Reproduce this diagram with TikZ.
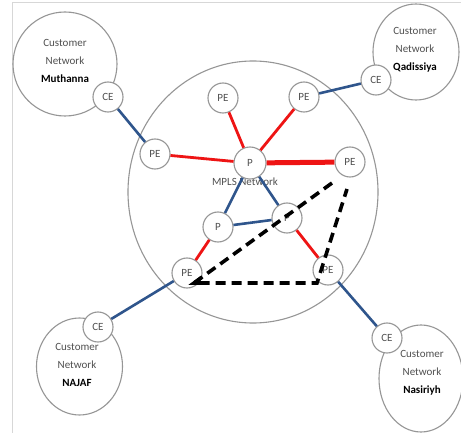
\documentclass[tikz,border=0pt]{standalone}
\usepackage{fontspec}
\setmainfont{Carlito}
\usetikzlibrary{calc}
\definecolor{cgray}{RGB}{150,150,150}
\definecolor{tgray}{RGB}{80,80,80}
\definecolor{lblue}{RGB}{47,85,140}
\definecolor{lred}{RGB}{238,20,20}
\definecolor{frame}{RGB}{215,215,215}
\begin{document}
\begin{tikzpicture}[x=1pt,y=-1pt,
  dev/.style={circle,draw=cgray,line width=1.1pt,fill=white,minimum size=30pt,inner sep=0pt,
    font=\fontsize{11}{12}\selectfont,text=tgray},
  cust/.style={draw=cgray,line width=1.1pt},
  ctext/.style={align=center,font=\fontsize{11}{18}\selectfont,text=tgray},
  bl/.style={draw=lblue,line width=2.6pt},
  rd/.style={draw=lred,line width=2.8pt},
  dsh/.style={draw=black,line width=3.6pt,dash pattern=on 10pt off 6pt}]
\useasboundingbox (0,0) rectangle (461,433);
\fill[white] (0,0) rectangle (461,433);
\coordinate (f1) at (12,433);
\coordinate (f2) at (12,2);
\coordinate (f3) at (461,2);
\draw[frame,line width=0.8pt] (f1) -- (f2) -- (f3);
% MPLS cloud
\draw[cust] (253,192) ellipse [x radius=125, y radius=131];
% customer networks
\draw[cust] (65,64) ellipse [x radius=52, y radius=52];
\draw[cust] (416,52) ellipse [x radius=43, y radius=48];
\draw[cust] (79.5,366.5) ellipse [x radius=43, y radius=48.5];
\draw[cust] (421,378.5) ellipse [x radius=42, y radius=53.5];
\node[ctext] (tM) at (65,61) {Customer\\Network\\\textcolor{black}{\bfseries Muthanna}};
\node[ctext] (tQ) at (415,50) {Customer\\Network\\\textcolor{black}{\bfseries Qadissiya}};
\node[ctext] (tN) at (77,365) {Customer\\Network\\\textcolor{black}{\bfseries NAJAF}};
\node[ctext] (tS) at (422,373) {Customer\\Network\\\textcolor{black}{\bfseries Nasiriyh}};
\node[ctext] (mpls) at (245,182) {MPLS Network};
% devices
\node[dev] (ceM) at (108,97) {CE};
\node[dev] (ceQ) at (376,80) {CE};
\node[dev] (ceN) at (98,327) {CE};
\node[dev] (ceS) at (387,338) {CE};
\node[dev] (pe1) at (223,98) {PE};
\node[dev] (pe2) at (304,97) {PE};
\node[dev] (pe3) at (155,154) {PE};
\node[dev] (pe4) at (350,162) {PE};
\node[dev] (pe5) at (187,273) {PE};
\node[dev] (pe6) at (328,270) {PE};
\node[dev,minimum size=32pt] (p1) at (250,163) {P};
\node[dev] (p2) at (218,227) {P};
\node[dev] (p3) at (287,218) {P};
% links
\path[bl] (ceM) -- (pe3);
\path[bl] (ceQ) -- (pe2);
\path[bl] (pe5) -- (ceN);
\path[bl] (pe6) -- (ceS);
\path[bl] (p1) -- (p2);
\path[bl] (p1) -- (p3);
\path[bl] (p2) -- (p3);
\path[rd] (pe1) -- (p1);
\path[rd] (pe2) -- (p1);
\path[rd] (pe3) -- (p1);
\path[rd,line width=5pt] (p1) -- (pe4);
\path[rd] (p2) -- (pe5);
\path[rd] (p3) -- (pe6);
% dashed LSP
\coordinate (d1) at (332,183);
\coordinate (d2) at (347,189);
\coordinate (d3) at (194,283);
\coordinate (d4) at (317,283);
\path[dsh] (d1) -- (d3) -- (d4) -- (d2);
\draw[black,line width=3.6pt] ($(d3)!9pt!(d1)$) -- (d3) -- ($(d3)!9pt!(d4)$);
\end{tikzpicture}
\end{document}
